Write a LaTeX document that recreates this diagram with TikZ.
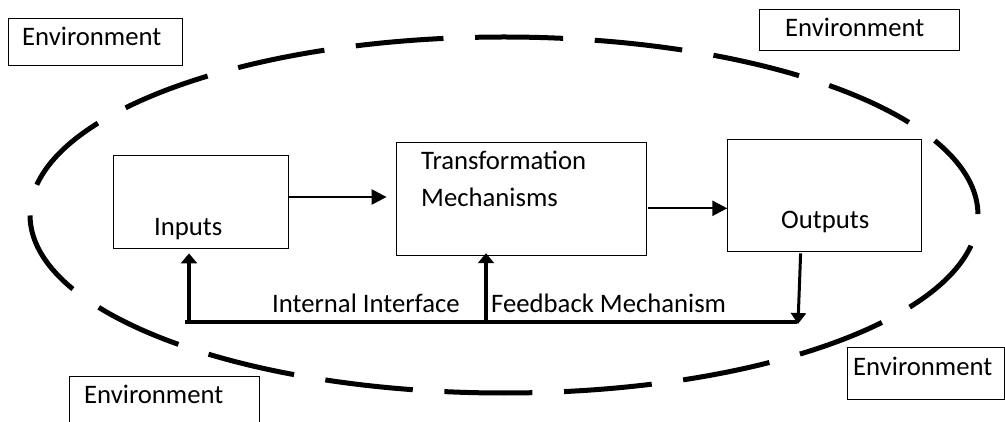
\documentclass[tikz,border=0pt]{standalone}
\usepackage{fontspec}
\setmainfont{Carlito}
\usetikzlibrary{arrows.meta}
\begin{document}
\begin{tikzpicture}[x=1pt,y=-1pt,
  box/.style={draw=black,line width=0.8pt,inner sep=0pt},
  lbl/.style={inner sep=0pt,anchor=base west,font=\fontsize{26.7}{36.7}\selectfont},
  flow/.style={line width=2.4pt,-{Triangle[length=15pt,width=15pt]}},
  fbline/.style={line width=3.6pt},
  fbup/.style={line width=3.6pt,-{Triangle[length=10pt,width=16pt]}},
  fbdown/.style={line width=3pt,-{Triangle[length=11pt,width=15pt]}},
  boundary/.style={line width=5pt,dash pattern=on 88pt off 31.7pt,dash phase=88pt}
]
\useasboundingbox (0,0) rectangle (1005,422);

% system boundary
\draw[boundary] (504,215) ellipse [x radius=474, y radius=178];

% environment boxes
\draw[box] (8,18) rectangle (182,65);
\draw[box] (759,9) rectangle (959,50);
\draw[box] (847,347) rectangle (1004.6,399);
\draw[box] (69,376) rectangle (259,430);
\node[lbl] (envTL) at (22,45.5) {Environment};
\node[lbl] (envTR) at (785,36.7) {Environment};
\node[lbl] (envBR) at (853,375.5) {Environment};
\node[lbl] (envBL) at (84,403.5) {Environment};

% process boxes
\node[box,minimum width=175pt,minimum height=93pt] (inputs) at (200.5,201.5) {};
\node[box,minimum width=250pt,minimum height=113pt] (tm) at (521,199.3) {};
\node[box,minimum width=194pt,minimum height=112pt] (outputs) at (824.7,195) {};
\node[lbl] (inputsT) at (154,236) {Inputs};
\node[lbl,align=left] (tmT) at (421,206.7) {Transformation\\Mechanisms};
\node[lbl] (outputsT) at (781,229) {Outputs};

% forward flow
\draw[flow,shorten >=9pt] ([yshift=4.5pt]inputs.east) -- ([yshift=4.5pt]inputs.east -| tm.west);
\draw[flow,shorten <=2pt] ([yshift=-9pt]tm.east) -- ([yshift=-9pt]tm.east -| outputs.west);

% feedback loop
\coordinate (fbL) at (185,322);
\coordinate (fbR) at (797,322);
\coordinate (jIn) at (189,323.5);
\coordinate (jTm) at (486,323.5);
\coordinate (fbEnd) at (798,324);
\draw[fbline] (fbL) -- (fbR);
\draw[fbup,shorten >=5pt] (jIn) -- (jIn |- inputs.south);
\draw[fbup,shorten >=-3pt] (jTm) -- (jTm |- tm.south);
\draw[fbdown,shorten <=2pt] ([xshift=-24pt]outputs.south) -- (fbEnd);

\node[lbl] (intIf) at (272,313) {Internal Interface};
\node[lbl] (fbMech) at (491,313) {Feedback Mechanism};
\end{tikzpicture}
\end{document}
